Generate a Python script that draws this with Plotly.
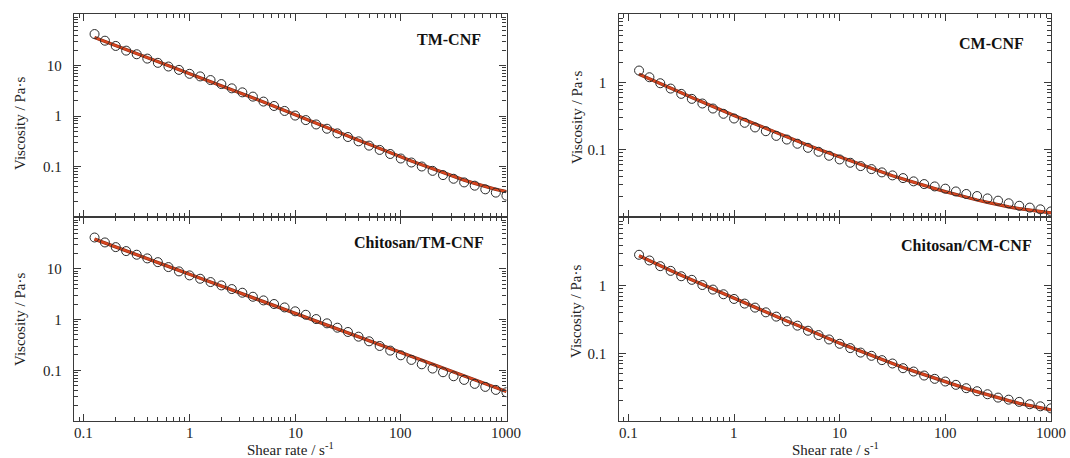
import numpy as np
import plotly.graph_objects as go

# Shear rate (s^-1), ten points per decade
shear_rate = [0.126, 0.158, 0.2, 0.251, 0.316, 0.398, 0.501, 0.631, 0.794, 1.0,
              1.26, 1.58, 2.0, 2.51, 3.16, 3.98, 5.01, 6.31, 7.94, 10.0,
              12.6, 15.8, 20.0, 25.1, 31.6, 39.8, 50.1, 63.1, 79.4, 100.0,
              126.0, 158.0, 200.0, 251.0, 316.0, 398.0, 501.0, 631.0, 794.0, 1000.0]

# Measured viscosity (Pa·s)
tm_cnf = [42.0, 31.0, 24.4, 19.7, 16.7, 13.7, 11.3, 9.55, 8.2, 6.85,
          6.08, 5.15, 4.29, 3.53, 2.94, 2.42, 1.93, 1.58, 1.26, 1.02,
          0.83, 0.68, 0.56, 0.453, 0.384, 0.315, 0.259, 0.213, 0.177, 0.144,
          0.12, 0.1, 0.082, 0.0676, 0.0572, 0.0484, 0.0417, 0.0353, 0.0304, 0.0265]
chitosan_tm_cnf = [41.3, 33.0, 26.7, 22.3, 18.9, 16.0, 13.5, 10.8, 8.87, 7.4,
                   6.36, 5.47, 4.7, 3.98, 3.37, 2.81, 2.38, 2.02, 1.73, 1.45,
                   1.24, 1.02, 0.84, 0.69, 0.568, 0.459, 0.372, 0.301, 0.244, 0.197,
                   0.16, 0.131, 0.108, 0.0914, 0.0762, 0.0646, 0.0539, 0.047, 0.041, 0.0369]
cm_cnf = [1.51, 1.2, 0.977, 0.814, 0.679, 0.572, 0.488, 0.411, 0.343, 0.292,
          0.252, 0.215, 0.189, 0.161, 0.142, 0.123, 0.107, 0.0934, 0.0815, 0.0718,
          0.0641, 0.0572, 0.0516, 0.0461, 0.0416, 0.0379, 0.0339, 0.0309, 0.0285, 0.0264,
          0.024, 0.022, 0.0205, 0.0189, 0.0175, 0.016, 0.0147, 0.0138, 0.013, 0.0121]
chitosan_cm_cnf = [2.89, 2.38, 1.96, 1.67, 1.39, 1.23, 1.03, 0.882, 0.752, 0.641,
                   0.547, 0.477, 0.406, 0.351, 0.299, 0.258, 0.217, 0.187, 0.161, 0.139,
                   0.12, 0.103, 0.0923, 0.0796, 0.071, 0.0605, 0.054, 0.0471, 0.0421, 0.0384,
                   0.0343, 0.0306, 0.0276, 0.0249, 0.0222, 0.0207, 0.0192, 0.0177, 0.0165, 0.0154]

# Model fit curves (Pa·s)
tm_cnf_fit = [36.0, 30.1, 24.7, 20.6, 17.2, 14.4, 12.0, 10.0, 8.34, 6.96,
              5.81, 4.84, 4.04, 3.32, 2.77, 2.31, 1.9, 1.56, 1.28, 1.05,
              0.867, 0.711, 0.585, 0.481, 0.401, 0.33, 0.275, 0.226, 0.188, 0.155,
              0.129, 0.108, 0.09, 0.075, 0.0635, 0.0538, 0.0463, 0.0398, 0.0353, 0.0318]
chitosan_tm_cnf_fit = [38.4, 32.1, 26.9, 22.5, 18.9, 15.8, 13.2, 11.1, 9.29, 7.78,
                       6.52, 5.46, 4.57, 3.83, 3.21, 2.69, 2.25, 1.88, 1.58, 1.32,
                       1.11, 0.927, 0.776, 0.65, 0.545, 0.456, 0.382, 0.32, 0.268, 0.224,
                       0.188, 0.157, 0.132, 0.11, 0.0925, 0.0774, 0.0649, 0.0543, 0.0455, 0.0381]
cm_cnf_fit = [1.33, 1.13, 0.966, 0.824, 0.703, 0.599, 0.511, 0.44, 0.38, 0.324,
              0.279, 0.241, 0.207, 0.179, 0.156, 0.136, 0.117, 0.102, 0.0892, 0.0778,
              0.0679, 0.0599, 0.0528, 0.0466, 0.0411, 0.0366, 0.0327, 0.0292, 0.0264, 0.0238,
              0.0215, 0.0196, 0.0179, 0.0165, 0.0152, 0.0142, 0.0133, 0.0126, 0.012, 0.0115]
chitosan_cm_cnf_fit = [2.79, 2.35, 1.98, 1.69, 1.44, 1.23, 1.05, 0.892, 0.76, 0.649,
                       0.56, 0.477, 0.411, 0.351, 0.302, 0.261, 0.222, 0.191, 0.165, 0.142,
                       0.123, 0.107, 0.0934, 0.0815, 0.071, 0.0619, 0.0547, 0.0482, 0.0426, 0.0379,
                       0.0339, 0.0302, 0.027, 0.0243, 0.022, 0.02, 0.0183, 0.0169, 0.0156, 0.0146]

panel_labels = ["TM-CNF", "Chitosan/TM-CNF", "CM-CNF", "Chitosan/CM-CNF"]
x_ticks = [0.1, 1, 10, 100, 1000]
x_ticktext = ["0.1", "1", "10", "100", "1000"]
y_ticks_left = [0.1, 1, 10]
y_ticks_right = [0.1, 1]

W, H = 1070, 458
SERIF = "Liberation Serif, Times New Roman, serif"
AXIS_COLOR = "#3a3a3a"
TICK_FONT = dict(family=SERIF, size=15, color="#222")


def px_x(p):
    return p / W


def px_y(p):
    return 1 - p / H


def minor_vals(lo_exp, hi_exp):
    vals = []
    for e in range(lo_exp, hi_exp + 1):
        for m in range(2, 10):
            vals.append(m * 10.0 ** e)
    return vals


def make_axis(domain, rng, tickvals, ticktext, show_labels, anchor, minor, standoff):
    return dict(
        type="log", domain=domain, range=rng, anchor=anchor,
        showline=True, linecolor=AXIS_COLOR, linewidth=1.3, mirror="allticks",
        ticks="inside", ticklen=7, tickwidth=1.1, tickcolor=AXIS_COLOR,
        tickmode="array", tickvals=tickvals, ticktext=ticktext,
        showticklabels=show_labels, ticklabelstandoff=standoff,
        tickfont=TICK_FONT,
        showgrid=False, zeroline=False,
        minor=dict(ticks="inside", ticklen=4, tickwidth=1, tickcolor=AXIS_COLOR,
                   tickmode="array", tickvals=minor, showgrid=False),
    )


# Panel geometry in pixels
left_x = [74, 506.5]
right_x = [618.5, 1051]
top_y = [14, 217]
bottom_y = [217, 421]

x_range = [np.log10(0.0805), np.log10(1002)]
y_range_left = [-2, 2.02]
y_range_right = [-2, 1.02]

panels = [
    # (x px, y px, y range, y ticks, data, fit, label, x tick labels below)
    (left_x, top_y, y_range_left, y_ticks_left, tm_cnf, tm_cnf_fit, panel_labels[0], False),
    (left_x, bottom_y, y_range_left, y_ticks_left, chitosan_tm_cnf, chitosan_tm_cnf_fit, panel_labels[1], True),
    (right_x, top_y, y_range_right, y_ticks_right, cm_cnf, cm_cnf_fit, panel_labels[2], False),
    (right_x, bottom_y, y_range_right, y_ticks_right, chitosan_cm_cnf, chitosan_cm_cnf_fit, panel_labels[3], True),
]

label_pos = [(483, 40), (486, 242), (1026, 43), (1034, 245)]
ytitle_pos = [(20, 124), (20, 320), (577, 118), (576, 312)]
xtitle_pos = [(290, 449), (835, 449)]
XTICK_LABEL_Y = 433

fig = go.Figure()
layout = dict(
    width=W, height=H, margin=dict(l=0, r=0, t=0, b=0),
    paper_bgcolor="white", plot_bgcolor="white", showlegend=False,
)
annotations = []

for i, (xp, yp, yrng, yt, data, fit, label, show_x) in enumerate(panels):
    n = i + 1
    xa = "x" if n == 1 else f"x{n}"
    ya = "y" if n == 1 else f"y{n}"
    xkey = "xaxis" if n == 1 else f"xaxis{n}"
    ykey = "yaxis" if n == 1 else f"yaxis{n}"

    layout[xkey] = make_axis([px_x(xp[0]), px_x(xp[1])], x_range, x_ticks, x_ticktext,
                             False, ya, minor_vals(-2, 3), 0)
    layout[ykey] = make_axis([px_y(yp[1]), px_y(yp[0])], yrng, yt, [str(v) for v in yt],
                             True, xa, minor_vals(-2, 2), 8)

    # fitted curve: dark edge under a red core
    fig.add_trace(go.Scatter(x=shear_rate, y=fit, mode="lines", xaxis=xa, yaxis=ya,
                             line=dict(color="#8c2a14", width=3.3), hoverinfo="skip"))
    fig.add_trace(go.Scatter(x=shear_rate, y=fit, mode="lines", xaxis=xa, yaxis=ya,
                             line=dict(color="#d8461f", width=2.2), name=label + " fit"))
    # measured points
    fig.add_trace(go.Scatter(x=shear_rate, y=data, mode="markers", xaxis=xa, yaxis=ya,
                             marker=dict(symbol="circle-open", size=9, color="#2a2a2a",
                                         line=dict(width=1, color="#2a2a2a")),
                             name=label))

    # shear-rate tick labels under the lower panels, placed on the axis scale
    if show_x:
        for v, t in zip(x_ticks, x_ticktext):
            annotations.append(dict(text=t, x=np.log10(v), xref=xa, y=px_y(XTICK_LABEL_Y),
                                    yref="paper", xanchor="center", yanchor="middle",
                                    showarrow=False, font=TICK_FONT))

    lx, ly = label_pos[i]
    annotations.append(dict(text="<b>%s</b>" % label, x=px_x(lx), y=px_y(ly),
                            xref="paper", yref="paper", xanchor="right", yanchor="middle",
                            showarrow=False, font=dict(family=SERIF, size=16, color="#111")))
    tx, ty = ytitle_pos[i]
    annotations.append(dict(text="Viscosity / Pa·s", x=px_x(tx), y=px_y(ty),
                            xref="paper", yref="paper", xanchor="center", yanchor="middle",
                            textangle=-90, showarrow=False,
                            font=dict(family=SERIF, size=15, color="#222")))

for tx, ty in xtitle_pos:
    annotations.append(dict(text="Shear rate / s<sup>-1</sup>", x=px_x(tx), y=px_y(ty),
                            xref="paper", yref="paper", xanchor="center", yanchor="middle",
                            showarrow=False, font=dict(family=SERIF, size=15, color="#222")))

layout["annotations"] = annotations
fig.update_layout(**layout)
fig.write_html("out.html")
